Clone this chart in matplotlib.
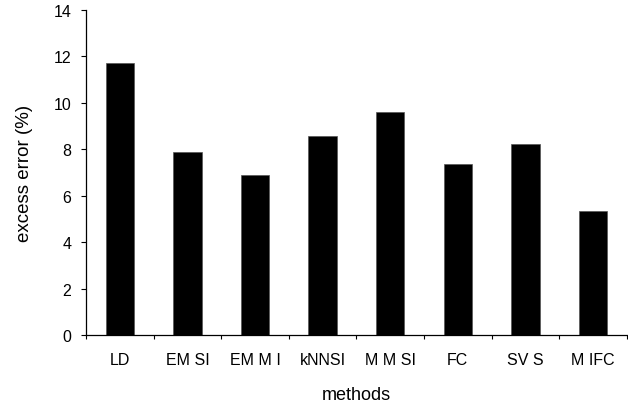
import numpy as np
import matplotlib
matplotlib.use('Agg')
import matplotlib.pyplot as plt
from matplotlib.ticker import FixedLocator

plt.rcParams['font.family'] = ['Liberation Sans', 'DejaVu Sans']

# data
methods = ['LD', 'EM SI', 'EM M I', 'kNNSI', 'M M SI', 'FC', 'SV S', 'M IFC']
excess_error = [11.72, 7.88, 6.9, 8.55, 9.6, 7.38, 8.2, 5.34]
yticks = [0, 2, 4, 6, 8, 10, 12, 14]

fig = plt.figure(figsize=(6.28, 4.06), dpi=100)
ax = fig.add_axes([0.137, 0.172, 0.861, 0.802])

xs = np.arange(len(methods))
ax.bar(xs, excess_error, width=0.42, color='black', edgecolor='#555555', linewidth=0.5)

ax.set_xlim(-0.5, len(methods) - 0.5)
ax.set_ylim(0, 14)
ax.set_yticks(yticks)
ax.set_xticks(xs)
ax.set_xticklabels(methods, fontsize=11.5)
ax.xaxis.set_minor_locator(FixedLocator(np.arange(-0.5, len(methods), 1.0)))
ax.tick_params(axis='x', which='major', length=0, pad=12)
ax.tick_params(axis='x', which='minor', length=3, width=0.8, direction='out')
ax.tick_params(axis='y', length=3.5, width=0.8, pad=7, labelsize=11.5)

for s in ['top', 'right']:
    ax.spines[s].set_visible(False)
for s in ['left', 'bottom']:
    ax.spines[s].set_linewidth(0.9)

ax.set_xlabel('methods', fontsize=13, labelpad=14)
ax.set_ylabel('excess error (%)', fontsize=13.5, labelpad=15)

fig.savefig('out.png', dpi=100)
